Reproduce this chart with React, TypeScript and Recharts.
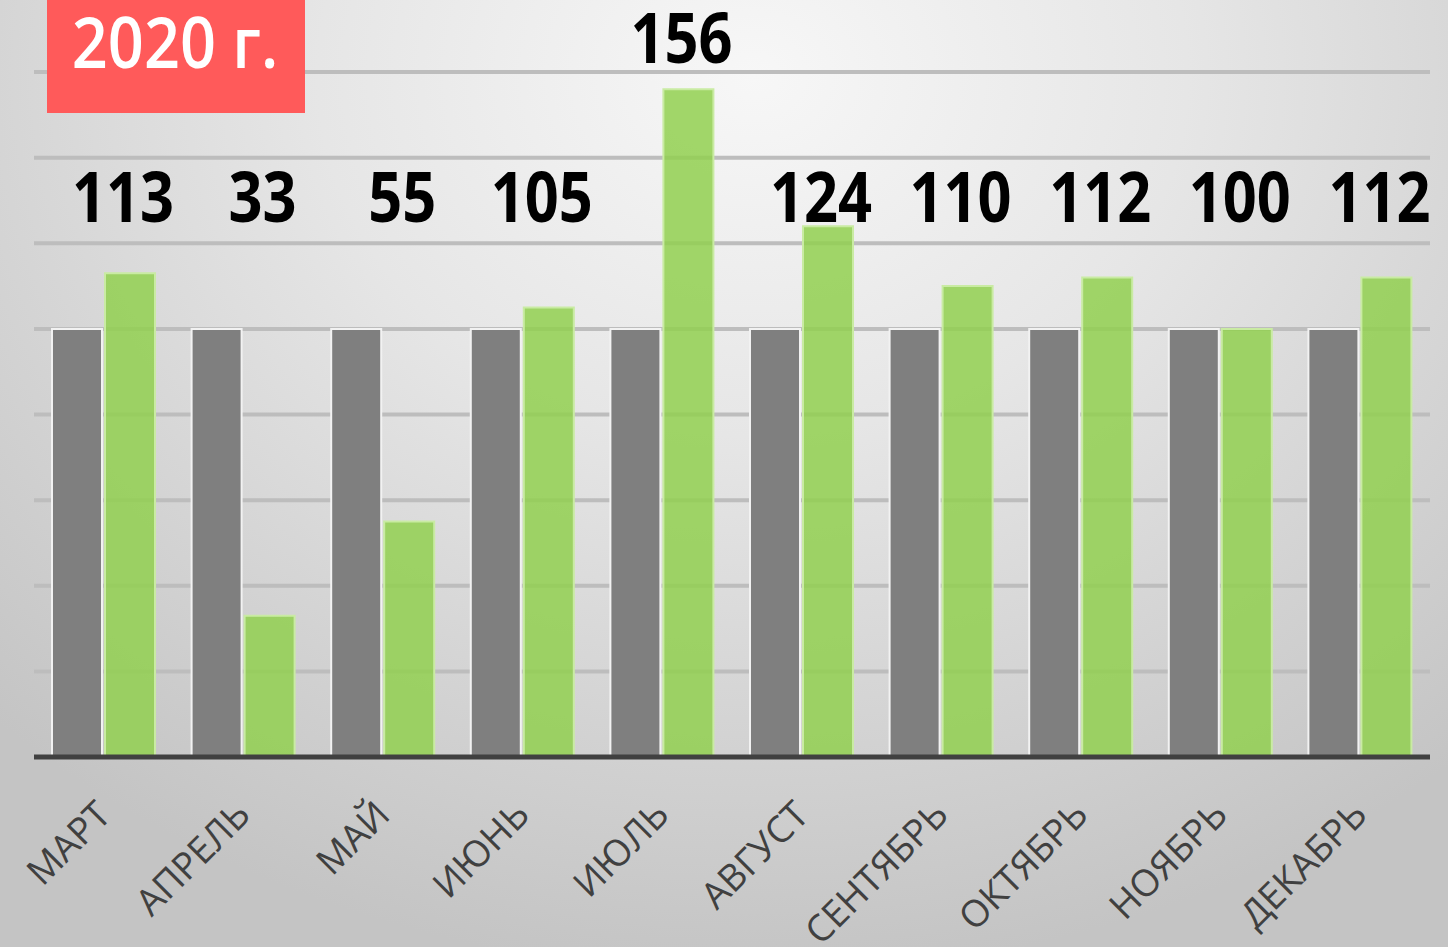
import React from 'react';
import { BarChart, Bar, XAxis, YAxis, CartesianGrid, LabelList } from 'recharts';

const months = ['МАРТ', 'АПРЕЛЬ', 'МАЙ', 'ИЮНЬ', 'ИЮЛЬ', 'АВГУСТ', 'СЕНТЯБРЬ', 'ОКТЯБРЬ', 'НОЯБРЬ', 'ДЕКАБРЬ'];
const baseValues = [100, 100, 100, 100, 100, 100, 100, 100, 100, 100];
const actualValues = [113, 33, 55, 105, 156, 124, 110, 112, 100, 112];
const yTicks = [0, 20, 40, 60, 80, 100, 120, 140, 160];
const titleText = '2020 г.';
const LABEL_ROW_VALUE = 125;

const data = months.map((m, i) => ({ month: m, base: baseValues[i], actual: actualValues[i] }));

const FONT = '"Open Sans", "Noto Sans", sans-serif';

const renderLabel = (props: any) => {
  const x = Number(props.x);
  const y = Number(props.y);
  const width = Number(props.width);
  const height = Number(props.height);
  const value = Number(props.value);
  const ppu = height / value;
  const bottom = y + height;
  const rowY = bottom - LABEL_ROW_VALUE * ppu;
  const baseline = y < rowY ? y - 26 : rowY;
  const cx = x + width / 2 - 7;
  return (
    <text
      transform={`translate(${cx},${baseline}) scale(0.85,1)`}
      textAnchor="middle"
      fontFamily={FONT}
      fontWeight={700}
      fontSize={70}
      fill="#000"
    >
      {value}
    </text>
  );
};

const MonthTick = (props: any) => {
  const { x, y, payload } = props;
  return (
    <g transform={`translate(${Number(x) + 9},${Number(y) + 52})`}>
      <text transform="rotate(-45)" textAnchor="end" fill="#404040" fontFamily={FONT} fontSize={37}>
        {payload.value}
      </text>
    </g>
  );
};

export default function App() {
  return (
    <div
      style={{
        position: 'absolute',
        left: 0,
        top: 0,
        width: 1448,
        height: 947,
        overflow: 'hidden',
        background: 'radial-gradient(ellipse 75% 95% at 52% 8%, #f7f7f7 0%, #e6e6e6 40%, #d2d2d2 75%, #c4c4c4 100%)',
      }}
    >
      <BarChart
        width={1448}
        height={947}
        data={data}
        margin={{ top: 72, right: 18, left: 34, bottom: 0 }}
        barSize={50}
        barGap={3}
      >
        <CartesianGrid vertical={false} stroke="#bdbdbd" strokeWidth={4} />
        <YAxis hide type="number" domain={[0, 160]} ticks={yTicks} />
        <XAxis
          dataKey="month"
          interval={0}
          height={190}
          tickLine={false}
          axisLine={{ stroke: '#404040', strokeWidth: 5 }}
          tick={<MonthTick />}
        />
        <Bar dataKey="base" fill="#7f7f7f" stroke="#f2f2f2" strokeWidth={2} isAnimationActive={false} />
        <Bar
          dataKey="actual"
          fill="#92d050"
          fillOpacity={0.85}
          stroke="#c9eba3"
          strokeWidth={2}
          isAnimationActive={false}
        >
          <LabelList dataKey="actual" content={renderLabel} />
        </Bar>
      </BarChart>
      <div
        style={{
          position: 'absolute',
          left: 47,
          top: 0,
          width: 258,
          height: 113,
          background: '#ff5a5a',
        }}
      >
        <svg width={258} height={113}>
          <text
            transform="translate(128,68) scale(0.9,1)"
            textAnchor="middle"
            fill="#fff"
            fontFamily={FONT}
            fontWeight={600}
            fontSize={70}
          >
            {titleText}
          </text>
        </svg>
      </div>
    </div>
  );
}
